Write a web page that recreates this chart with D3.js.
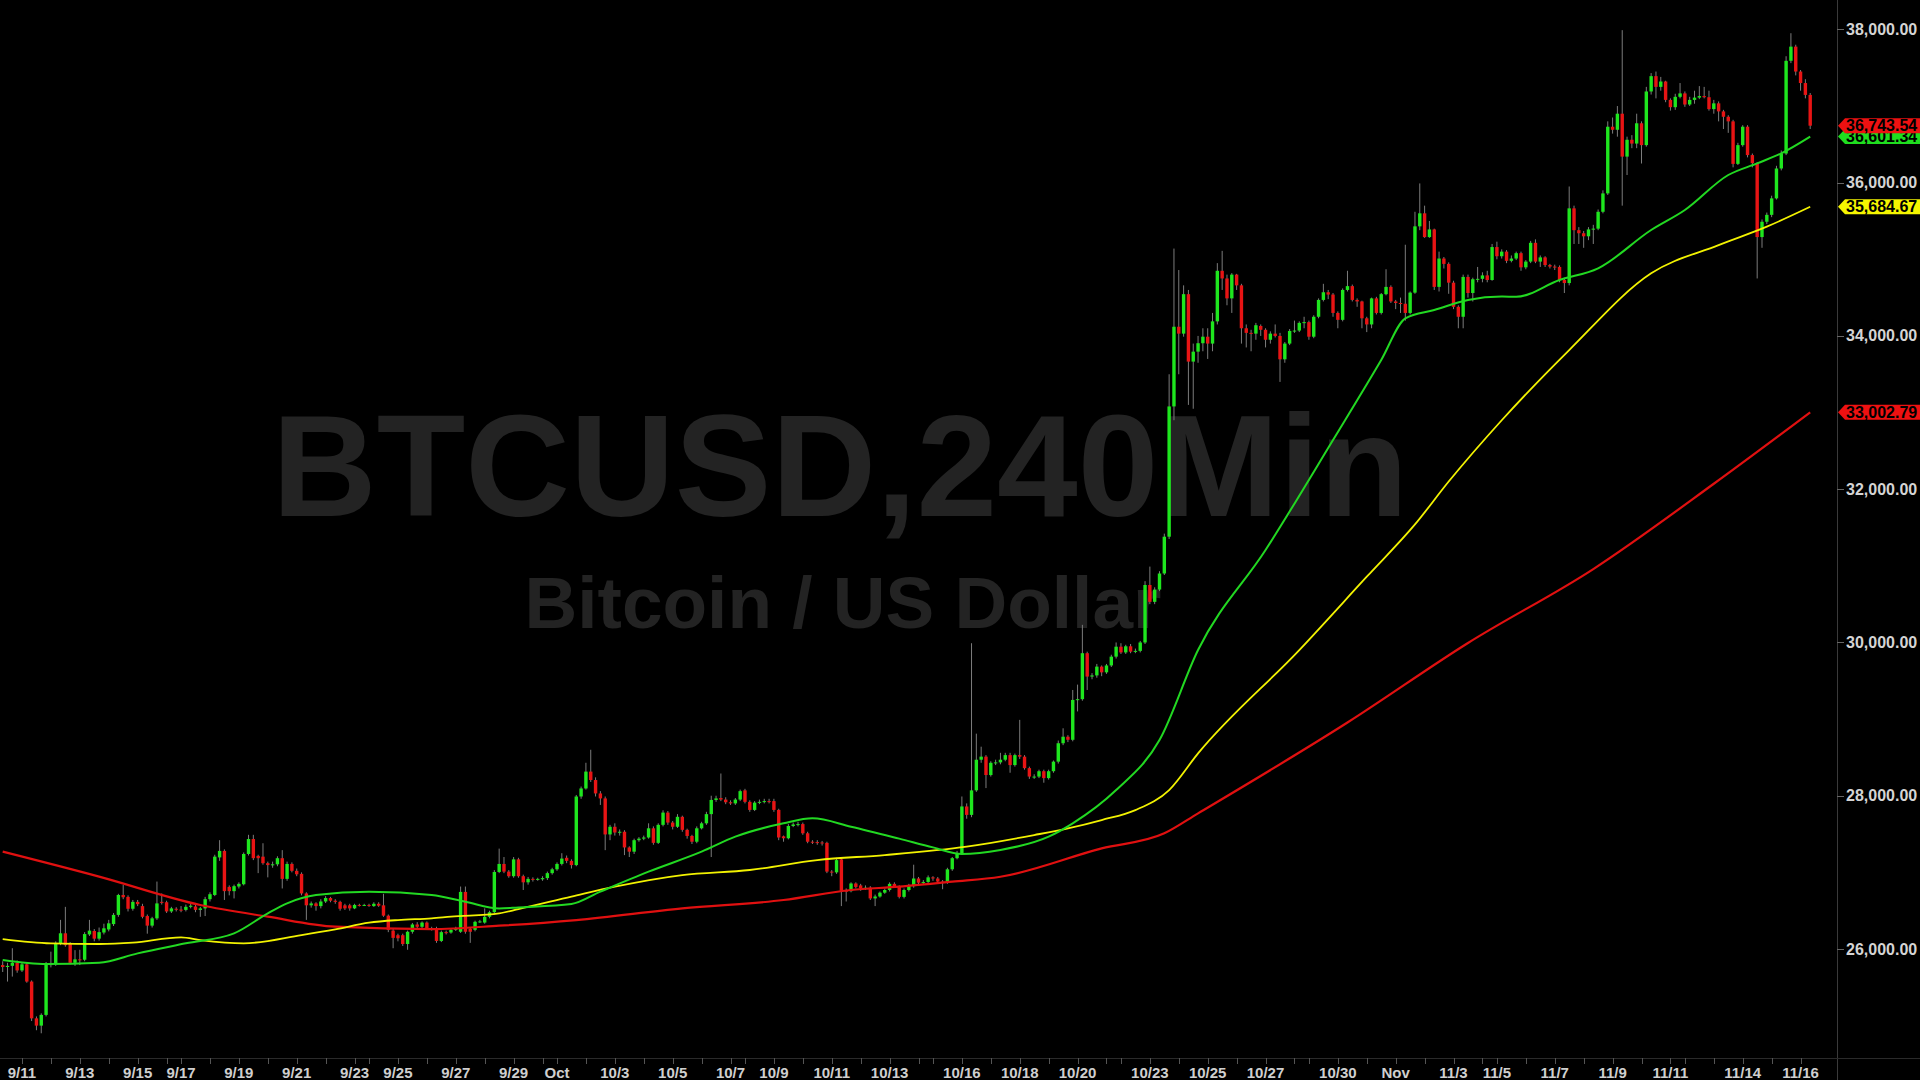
<!DOCTYPE html>
<html lang="en">
<head>
<meta charset="UTF-8">
<title>BTCUSD,240Min</title>
<script src="https://d3js.org/d3.v7.min.js"></script>
<style>
  html, body { margin: 0; padding: 0; background: #000; overflow: hidden; }
  svg { display: block; }
</style>
</head>
<body>
<div id="chart"></div>
<script>
// 4h bars, 9/10 08:00 -> 11/16 08:00 (Saturdays only carry 3 bars)
const opens = [
  25790,25765,25780,25820,25720,25800,25575,25095,25000,25140,
  25790,25805,26075,26205,26065,25820,25865,25860,26190,26235,
  26135,26215,26255,26325,26445,26705,26680,26525,26615,26560,
  26430,26305,26400,26615,26610,26490,26525,26515,26510,26550,
  26555,26510,26530,26650,26705,27195,27280,26810,26755,26815,
  26845,27240,27435,27215,27205,27120,27100,27105,27185,26915,
  27110,27020,26980,26725,26570,26595,26560,26620,26665,26630,
  26615,26570,26570,26530,26575,26570,26575,26560,26590,26570,
  26435,26240,26180,26180,26065,26225,26320,26290,26345,26270,
  26265,26105,26220,26215,26250,26225,26745,26265,26250,26355,
  26345,26420,26480,27005,27110,27010,26950,27170,26950,26870,
  26915,26905,26910,26925,26990,27040,27110,27190,27150,27095,
  27990,28095,28315,28205,28030,27965,27495,27595,27520,27530,
  27325,27270,27420,27440,27455,27575,27385,27620,27780,27650,
  27595,27725,27555,27475,27400,27575,27640,27760,27945,27970,
  27950,27915,27900,27950,28070,27920,27815,27910,27920,27930,
  27930,27815,27470,27445,27605,27625,27630,27510,27400,27395,
  27390,27385,27010,27000,27170,26760,26755,26855,26830,26790,
  26800,26660,26685,26735,26770,26850,26815,26680,26770,26820,
  26920,26865,26875,26935,26920,26880,26870,27040,27185,27250,
  27860,27750,28070,28470,28510,28270,28430,28435,28470,28530,
  28400,28530,28510,28360,28250,28250,28320,28230,28320,28445,
  28685,28770,28730,29250,29260,29860,29555,29570,29685,29610,
  29700,29815,29945,29870,29950,29880,29890,30000,30750,30530,
  30690,30900,31380,33080,34120,34030,34545,33665,33795,33905,
  33990,33900,34190,34850,34750,34490,34800,34660,34100,34040,
  34030,34130,34080,33950,34030,34000,33695,33900,34065,34070,
  34170,34180,33990,34250,34470,34570,34540,34300,34210,34600,
  34650,34470,34450,34230,34150,34490,34300,34545,34640,34450,
  34430,34420,34300,34565,35430,35600,35290,35390,34640,35010,
  34940,34695,34380,34250,34770,34560,34740,34745,34790,34730,
  35160,35040,35100,34980,35010,35080,34895,34970,35215,34970,
  35025,34925,34905,34900,34730,34690,35665,35380,35340,35300,
  35390,35400,35620,35860,36730,36690,36900,36340,36560,36510,
  36775,36490,37190,37390,37250,37320,37080,36985,37120,37165,
  37020,37080,37110,37130,37115,36960,37035,36930,36860,36800,
  36245,36490,36730,36360,36255,35290,35490,35580,35795,36185,
  36380,37590,37775,37450,37300,37145
];
const highs = [
  25840,25820,26010,25850,25830,25830,25590,25120,25160,25830,
  25965,26100,26380,26550,26090,25985,25990,26220,26380,26260,
  26280,26330,26380,26470,26720,26835,26700,26640,26640,26590,
  26450,26420,26880,26725,26630,26550,26545,26560,26580,26600,
  26575,26550,26680,26740,27230,27420,27300,26830,26840,26870,
  27260,27490,27490,27230,27380,27140,27140,27210,27290,27140,
  27130,27050,27000,26740,26620,26610,26650,26690,26680,26650,
  26630,26590,26590,26590,26590,26590,26590,26610,26610,26720,
  26450,26260,26200,26200,26240,26340,26350,26360,26360,26290,
  26290,26240,26240,26270,26290,26815,26815,26280,26370,26380,
  26530,26500,27030,27310,27200,27030,27200,27190,26970,26940,
  26935,26930,26950,27010,27060,27130,27250,27220,27170,28010,
  28120,28430,28600,28240,28060,27990,27620,27640,27560,27550,
  27340,27440,27460,27480,27640,27600,27640,27810,27800,27670,
  27760,27740,27570,27490,27600,27660,27790,28000,28000,28290,
  27980,27940,27970,28080,28090,27940,27930,27950,27960,27960,
  27960,27830,27480,27630,27650,27660,27650,27530,27420,27420,
  27410,27400,27030,27190,27180,26790,26870,26870,26850,26830,
  26820,26710,26750,26790,26870,26870,26830,26790,26850,27100,
  26940,26900,26960,26950,26940,26900,27060,27200,27280,27990,
  27900,29990,28810,28640,28530,28450,28470,28560,28560,28560,
  28550,28990,28530,28380,28280,28340,28340,28340,28460,28720,
  28880,28790,29380,29450,30230,29880,29600,29720,29700,29720,
  29840,30000,29990,29970,29980,29920,30020,30800,30990,30720,
  30930,31420,33500,35140,34860,34660,34600,33900,34000,34100,
  34100,34300,34950,35110,34800,34820,34810,34680,34150,34080,
  34170,34150,34100,34060,34150,34040,33920,34090,34200,34190,
  34250,34200,34270,34490,34680,34600,34560,34320,34620,34850,
  34670,34490,34460,34250,34500,34510,34560,34870,34660,34470,
  34500,35190,34580,35620,35990,35700,35500,35400,35100,35030,
  34960,34720,34400,34800,34800,34760,34900,34830,34850,35200,
  35230,35130,35120,35050,35100,35100,34990,35240,35260,35050,
  35040,34940,34930,34920,34760,35950,35700,35420,35370,35420,
  35450,35650,35900,36800,36850,37000,37990,36600,36620,36900,
  36800,37250,37430,37450,37380,37330,37100,37160,37300,37190,
  37120,37200,37260,37250,37200,37080,37060,36950,36880,36820,
  36520,36750,36750,36380,36270,35520,35610,35830,36220,36420,
  37650,37950,37800,37470,37350,37170
];
const lows = [
  25700,25575,25640,25690,25700,25560,25060,24940,24900,25120,
  25760,25780,26050,26030,25800,25780,25790,25840,26170,26100,
  26110,26190,26230,26300,26420,26650,26490,26500,26560,26400,
  26200,26280,26380,26580,26470,26470,26490,26480,26490,26530,
  26480,26420,26430,26620,26690,27150,26640,26700,26660,26790,
  26830,27220,27160,26990,27100,26935,27060,27080,26790,26890,
  27000,26950,26700,26380,26540,26500,26530,26600,26610,26590,
  26500,26510,26500,26520,26555,26560,26550,26550,26550,26420,
  26220,26010,26100,26040,25990,26200,26270,26270,26250,26240,
  26080,26090,26190,26200,26235,26210,26200,26080,26230,26340,
  26330,26400,26460,26990,26990,26930,26930,26930,26770,26840,
  26880,26890,26890,26900,26970,27020,27090,27120,27050,27080,
  27960,28080,28180,27990,27880,27290,27420,27480,27480,27225,
  27200,27240,27400,27420,27440,27360,27370,27600,27620,27560,
  27580,27530,27440,27370,27380,27560,27620,27200,27920,27930,
  27890,27880,27880,27930,27900,27790,27800,27890,27900,27900,
  27790,27420,27400,27430,27590,27600,27490,27380,27370,27360,
  27350,26990,26950,26980,26560,26620,26740,26790,26760,26770,
  26640,26560,26670,26720,26750,26800,26660,26660,26750,26800,
  26840,26840,26860,26890,26860,26780,26850,27020,27170,27230,
  27700,27720,28050,28430,28100,28250,28400,28410,28450,28300,
  28380,28480,28340,28220,28220,28230,28170,28210,28300,28420,
  28660,28700,28710,29100,29240,29380,29520,29540,29560,29590,
  29680,29790,29850,29850,29860,29860,29870,29980,30500,30500,
  30670,30880,31350,32900,33500,33990,33100,33050,33650,33800,
  33700,33800,34150,34600,34400,34300,34600,33900,33850,33800,
  33950,34000,33850,33900,33980,33400,33650,33880,34040,34050,
  34100,33950,33970,34230,34450,34480,34250,34100,34190,34580,
  34450,34380,34100,34050,34100,34280,34280,34530,34430,34350,
  34300,34200,34280,34550,35380,35280,35280,34600,34580,34880,
  34550,34350,34100,34100,34500,34450,34700,34700,34700,34720,
  35000,35010,34950,34960,34990,34850,34870,34950,34950,34900,
  34900,34880,34860,34700,34560,34660,35200,35200,35150,35250,
  35200,35380,35600,35840,36640,36600,35700,36100,36450,36450,
  36250,36470,37150,37100,37200,37050,36940,36950,37100,36990,
  37000,37030,37090,37100,36940,36900,36800,36700,36650,36200,
  36230,36470,36330,36200,34750,35150,35460,35550,35780,36160,
  36360,37560,37400,37200,37100,36700
];
const closes = [
  25765,25780,25820,25720,25800,25575,25095,25000,25140,25805,
  25815,26080,26205,26050,25820,25865,25860,26195,26240,26135,
  26220,26270,26335,26445,26705,26675,26525,26615,26585,26420,
  26305,26400,26595,26605,26490,26530,26515,26500,26550,26565,
  26510,26530,26650,26715,27205,27280,26755,26755,26820,26850,
  27240,27435,27185,27185,27120,27095,27105,27185,26915,27110,
  27020,26975,26725,26570,26595,26560,26620,26665,26630,26615,
  26525,26530,26530,26575,26570,26575,26570,26590,26565,26435,
  26250,26145,26140,26065,26225,26320,26290,26345,26270,26265,
  26105,26220,26215,26250,26265,26745,26225,26225,26355,26360,
  26420,26480,27005,27110,27010,26950,27170,26950,26870,26915,
  26905,26915,26925,26990,27040,27110,27180,27150,27095,27990,
  28095,28315,28205,28030,27965,27495,27595,27520,27530,27325,
  27270,27420,27440,27455,27575,27385,27620,27780,27650,27595,
  27725,27555,27475,27400,27575,27640,27760,27945,27965,27950,
  27915,27900,27950,28060,27920,27815,27910,27920,27930,27925,
  27815,27455,27445,27605,27625,27630,27510,27400,27395,27390,
  27385,27010,27000,27160,26760,26755,26855,26810,26790,26800,
  26660,26685,26735,26770,26850,26815,26680,26770,26820,26920,
  26865,26875,26935,26920,26880,26870,27040,27185,27250,27860,
  27750,28070,28470,28510,28270,28430,28435,28470,28530,28400,
  28530,28510,28360,28250,28250,28320,28230,28320,28445,28685,
  28770,28730,29250,29260,29860,29555,29570,29685,29610,29700,
  29815,29945,29870,29950,29880,29890,30000,30750,30530,30690,
  30900,31380,33080,34120,34030,34545,33665,33795,33905,33990,
  33900,34190,34850,34750,34490,34800,34660,34100,34040,34030,
  34140,34080,33950,34030,34000,33695,33900,34065,34070,34170,
  34180,33990,34250,34470,34570,34540,34300,34210,34600,34650,
  34470,34450,34230,34150,34490,34300,34545,34640,34450,34430,
  34420,34300,34565,35430,35600,35290,35390,34640,35010,34940,
  34695,34380,34250,34770,34560,34740,34745,34790,34730,35160,
  35040,35100,34980,35010,35080,34895,34970,35215,34970,35025,
  34925,34905,34900,34730,34690,35665,35380,35340,35300,35390,
  35400,35620,35860,36730,36690,36900,36340,36560,36510,36775,
  36490,37190,37390,37250,37320,37080,36985,37120,37165,37020,
  37080,37110,37130,37115,36960,37035,36930,36860,36800,36245,
  36490,36730,36360,36255,35290,35490,35580,35795,36185,36380,
  37590,37775,37450,37300,37145,36743.54
];

// moving averages, read at bar positions
const greenMaBars = [0,9,20,28,38,48,55,59,65,76,89,96,103,107,118,124,134,145,152,162,
  168,176,186,193,199,207,217,222,231,240,248,262,276,286,291,297,304,311,314,323,
  331,342,349,358,364,369,375];
const greenMaValues = [25856,25804,25821,25943,26074,26204,26465,26596,26704,26748,26704,26617,26530,26543,26587,26748,27009,27270,27466,27640,
  27705,27596,27440,27326,27239,27292,27466,27640,28074,28727,29901,31206,32642,33686,34230,34338,34469,34513,34512,34730,
  34882,35382,35643,36100,36252,36383,36601];
const yellowMaBars = [0,10,20,27,37,41,50,62,69,76,82,89,93,103,107,118,127,141,155,169,
  183,200,214,221,228,235,242,248,269,283,293,300,311,325,342,356,366,375];
const yellowMaValues = [26130,26074,26065,26082,26152,26117,26074,26182,26256,26343,26378,26400,26422,26465,26520,26683,26813,26965,27031,27161,
  27226,27335,27487,27574,27683,27813,28074,28553,29901,30858,31540,32100,32900,33816,34817,35186,35426,35685];
const redMaBars = [0,20,41,55,69,89,103,119,141,162,176,186,197,207,228,241,248,279,304,330,355,375];
const redMaValues = [27270,26944,26574,26422,26291,26260,26304,26378,26530,26639,26770,26813,26878,26943,27313,27509,27770,28955,29993,30958,32071,33003];

const dateLabels = ["9/11","9/13","9/15","9/17","9/19","9/21","9/23","9/25","9/27","9/29","Oct",
  "10/3","10/5","10/7","10/9","10/11","10/13","10/16","10/18","10/20","10/23","10/25","10/27",
  "10/30","Nov","11/3","11/5","11/7","11/9","11/11","11/14","11/16"];
const dateLabelBars = [4,16,28,37,49,61,73,82,94,106,115,127,139,151,160,172,184,199,211,223,238,250,262,
  277,289,301,310,322,334,346,361,373];
const dayStartBars = [4,10,16,22,28,34,37,43,49,55,61,67,73,76,82,88,94,100,106,112,115,121,127,133,139,
  145,151,154,160,166,172,178,184,190,193,199,205,211,217,223,229,232,238,244,250,256,262,268,271,277,283,
  289,295,301,307,310,316,322,328,334,340,346,349,355,361,367,373];

const priceTicks = [26000, 28000, 30000, 32000, 34000, 36000, 38000];
const tagValues = [33002.79, 35684.67, 36601.34, 36743.54];
const tagColors = ["#ee1111", "#f5f500", "#1fdd1f", "#ee1111"];

const W = 1920, H = 1080;
const plotRight = 1837, plotBottom = 1058;

const svg = d3.select("#chart").append("svg")
  .attr("width", W).attr("height", H)
  .style("background", "#000");

const x = d3.scaleLinear().domain([0, opens.length - 1]).range([2.7, 1810.2]);
const y = d3.scaleLinear().domain([26000, 38000]).range([949, 29.4]);

svg.append("clipPath").attr("id", "plot-clip")
  .append("rect").attr("x", 0).attr("y", 0).attr("width", plotRight).attr("height", plotBottom);

// watermark
const wm = svg.append("g").attr("font-family", "'Liberation Sans', Arial, sans-serif")
  .attr("font-weight", "bold").attr("fill", "#232323").attr("text-anchor", "middle");
wm.append("text").attr("x", 840).attr("y", 516).attr("font-size", 145).text("BTCUSD,240Min");
wm.append("text").attr("x", 843).attr("y", 628).attr("font-size", 73).text("Bitcoin / US Dollar");

const plot = svg.append("g").attr("clip-path", "url(#plot-clip)");

const bars = opens.map((o, i) => ({ i, o, h: highs[i], l: lows[i], c: closes[i] }));
const up = "#1ee61e", down = "#e81414";
const bodyW = 3.4;

plot.append("g").selectAll("line").data(bars).join("line")
  .attr("x1", d => x(d.i)).attr("x2", d => x(d.i))
  .attr("y1", d => y(d.h)).attr("y2", d => y(d.l))
  .attr("stroke", "#7c7c7c").attr("stroke-width", 1);

plot.append("g").selectAll("rect").data(bars).join("rect")
  .attr("x", d => x(d.i) - bodyW / 2)
  .attr("width", bodyW)
  .attr("y", d => y(Math.max(d.o, d.c)))
  .attr("height", d => Math.max(1, Math.abs(y(d.o) - y(d.c))))
  .attr("fill", d => d.c >= d.o ? up : down);

function maLine(idx, vals, color, w) {
  const pts = idx.map((b, k) => [x(b), y(vals[k])]);
  plot.append("path")
    .attr("d", d3.line().curve(d3.curveMonotoneX)(pts))
    .attr("fill", "none").attr("stroke", color).attr("stroke-width", w);
}
maLine(redMaBars, redMaValues, "#e01010", 2.2);
maLine(yellowMaBars, yellowMaValues, "#f2f200", 1.8);
maLine(greenMaBars, greenMaValues, "#22d822", 2);

// frame
svg.append("line").attr("x1", plotRight + 0.5).attr("x2", plotRight + 0.5)
  .attr("y1", 0).attr("y2", H).attr("stroke", "#3a3a3a");
svg.append("line").attr("x1", 0).attr("x2", W)
  .attr("y1", plotBottom + 0.5).attr("y2", plotBottom + 0.5).attr("stroke", "#2a2a2a");

// time axis
const tAxis = svg.append("g");
tAxis.selectAll("line").data(dayStartBars).join("line")
  .attr("x1", d => Math.round(x(d)) + 0.5).attr("x2", d => Math.round(x(d)) + 0.5)
  .attr("y1", plotBottom).attr("y2", plotBottom + 6)
  .attr("stroke", "#555");
tAxis.selectAll("text").data(dateLabels).join("text")
  .attr("x", (d, k) => x(dateLabelBars[k]))
  .attr("y", 1078)
  .attr("text-anchor", "middle")
  .attr("font-family", "'Liberation Sans', Arial, sans-serif")
  .attr("font-weight", "bold").attr("font-size", 15)
  .attr("fill", "#cfcfcf")
  .text(d => d);

// price axis
const fmt = d3.format(",.2f");
const pAxis = svg.append("g");
pAxis.selectAll("line").data(priceTicks).join("line")
  .attr("x1", plotRight).attr("x2", plotRight + 7)
  .attr("y1", d => Math.round(y(d)) + 0.5).attr("y2", d => Math.round(y(d)) + 0.5)
  .attr("stroke", "#666");
pAxis.selectAll("text").data(priceTicks).join("text")
  .attr("x", 1846).attr("y", d => y(d) + 5.5)
  .attr("font-family", "'Liberation Sans', Arial, sans-serif")
  .attr("font-weight", "bold").attr("font-size", 16)
  .attr("fill", "#d4d4d4")
  .text(d => fmt(d));

// value tags (green one sits under the last-price tag, as in the source)
const tags = svg.append("g");
tagValues.forEach((v, k) => {
  const yc = y(v);
  tags.append("polygon")
    .attr("points", [[plotRight + 1, yc], [plotRight + 8, yc - 7.5], [W, yc - 7.5], [W, yc + 7.5], [plotRight + 8, yc + 7.5]].join(" "))
    .attr("fill", tagColors[k]);
  tags.append("text")
    .attr("x", 1846).attr("y", yc + 5.5)
    .attr("font-family", "'Liberation Sans', Arial, sans-serif")
    .attr("font-weight", "bold").attr("font-size", 16)
    .attr("fill", "#000")
    .text(fmt(v));
});
</script>
</body>
</html>
